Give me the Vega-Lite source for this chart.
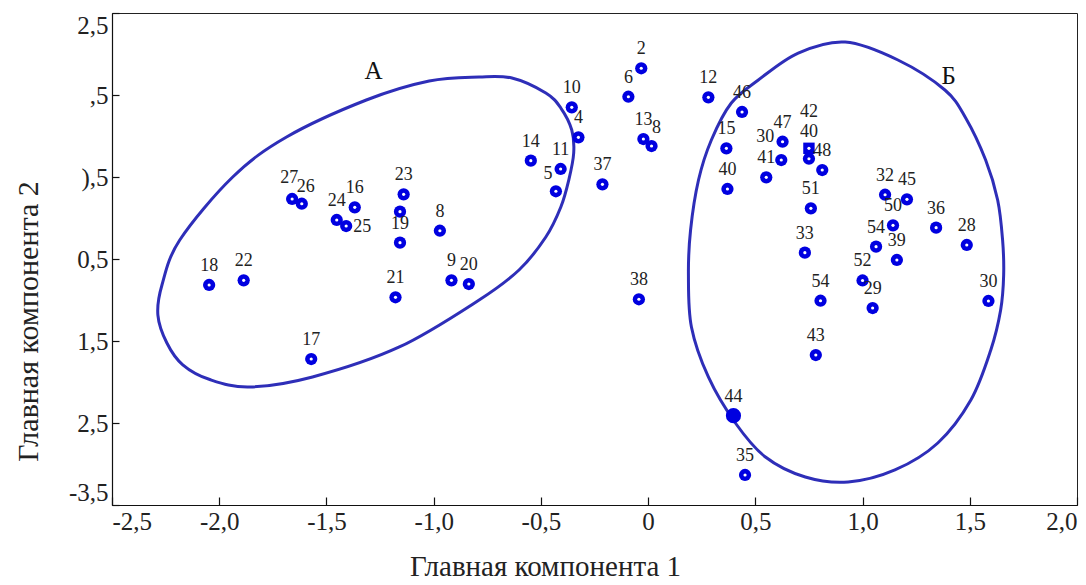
{
  "$schema": "https://vega.github.io/schema/vega-lite/v6.json",
  "width": 965,
  "height": 492,
  "autosize": "none",
  "padding": {"left": 112, "top": 13, "right": 9, "bottom": 80},
  "background": "white",
  "config": {
    "view": {"stroke": "#222", "strokeWidth": 1},
    "axis": {
      "grid": false,
      "domainColor": "#111",
      "domainWidth": 1.2,
      "tickColor": "#111",
      "tickWidth": 1.2,
      "labelFont": "Liberation Serif",
      "labelFontSize": 25,
      "labelColor": "#222",
      "titleFont": "Liberation Serif",
      "titleFontWeight": "normal",
      "titleColor": "#222"
    }
  },
  "datasets": {
    "points": [
      {"label": "27", "x": -1.660, "y": 0.232},
      {"label": "26", "x": -1.615, "y": 0.174},
      {"label": "24", "x": -1.452, "y": -0.024},
      {"label": "25", "x": -1.408, "y": -0.098},
      {"label": "16", "x": -1.368, "y": 0.130},
      {"label": "23", "x": -1.140, "y": 0.289},
      {"label": "", "x": -1.157, "y": 0.077},
      {"label": "19", "x": -1.157, "y": -0.301},
      {"label": "8", "x": -0.971, "y": -0.155},
      {"label": "18", "x": -2.047, "y": -0.817},
      {"label": "22", "x": -1.886, "y": -0.760},
      {"label": "21", "x": -1.178, "y": -0.967},
      {"label": "9", "x": -0.917, "y": -0.760},
      {"label": "20", "x": -0.836, "y": -0.805},
      {"label": "17", "x": -1.571, "y": -1.720},
      {"label": "2", "x": -0.032, "y": 1.826},
      {"label": "6", "x": -0.092, "y": 1.479},
      {"label": "10", "x": -0.356, "y": 1.350},
      {"label": "4", "x": -0.325, "y": 0.984},
      {"label": "13", "x": -0.022, "y": 0.963},
      {"label": "8", "x": 0.016, "y": 0.878},
      {"label": "14", "x": -0.547, "y": 0.699},
      {"label": "11", "x": -0.408, "y": 0.598},
      {"label": "5", "x": -0.430, "y": 0.326},
      {"label": "37", "x": -0.213, "y": 0.411},
      {"label": "38", "x": -0.043, "y": -0.991},
      {"label": "12", "x": 0.281, "y": 1.472},
      {"label": "46", "x": 0.438, "y": 1.293},
      {"label": "15", "x": 0.365, "y": 0.850},
      {"label": "40", "x": 0.370, "y": 0.354},
      {"label": "41", "x": 0.551, "y": 0.496},
      {"label": "30", "x": 0.621, "y": 0.707},
      {"label": "47", "x": 0.627, "y": 0.930},
      {"label": "42", "x": 0.750, "y": 0.850},
      {"label": "40", "x": 0.750, "y": 0.723},
      {"label": "48", "x": 0.812, "y": 0.585},
      {"label": "51", "x": 0.759, "y": 0.118},
      {"label": "33", "x": 0.731, "y": -0.423},
      {"label": "54", "x": 0.804, "y": -1.009},
      {"label": "52", "x": 1.000, "y": -0.762},
      {"label": "29", "x": 1.047, "y": -1.098},
      {"label": "54", "x": 1.063, "y": -0.350},
      {"label": "32", "x": 1.105, "y": 0.284},
      {"label": "45", "x": 1.207, "y": 0.228},
      {"label": "50", "x": 1.142, "y": -0.089},
      {"label": "36", "x": 1.343, "y": -0.118},
      {"label": "39", "x": 1.160, "y": -0.512},
      {"label": "28", "x": 1.486, "y": -0.329},
      {"label": "30", "x": 1.587, "y": -1.012},
      {"label": "43", "x": 0.782, "y": -1.671},
      {"label": "44", "x": 0.398, "y": -2.411},
      {"label": "35", "x": 0.452, "y": -3.134}
    ],
    "ellipses": [
      {"ellipse": "A", "order": 1, "x": -0.788, "y": 1.720},
      {"ellipse": "A", "order": 2, "x": -0.635, "y": 1.707},
      {"ellipse": "A", "order": 3, "x": -0.477, "y": 1.524},
      {"ellipse": "A", "order": 4, "x": -0.407, "y": 1.341},
      {"ellipse": "A", "order": 5, "x": -0.356, "y": 1.073},
      {"ellipse": "A", "order": 6, "x": -0.347, "y": 0.793},
      {"ellipse": "A", "order": 7, "x": -0.370, "y": 0.463},
      {"ellipse": "A", "order": 8, "x": -0.407, "y": 0.134},
      {"ellipse": "A", "order": 9, "x": -0.477, "y": -0.232},
      {"ellipse": "A", "order": 10, "x": -0.602, "y": -0.634},
      {"ellipse": "A", "order": 11, "x": -0.788, "y": -1.000},
      {"ellipse": "A", "order": 12, "x": -1.160, "y": -1.573},
      {"ellipse": "A", "order": 13, "x": -1.565, "y": -1.939},
      {"ellipse": "A", "order": 14, "x": -1.858, "y": -2.061},
      {"ellipse": "A", "order": 15, "x": -2.044, "y": -1.970},
      {"ellipse": "A", "order": 16, "x": -2.170, "y": -1.790},
      {"ellipse": "A", "order": 17, "x": -2.244, "y": -1.524},
      {"ellipse": "A", "order": 18, "x": -2.286, "y": -1.183},
      {"ellipse": "A", "order": 19, "x": -2.267, "y": -0.817},
      {"ellipse": "A", "order": 20, "x": -2.184, "y": -0.268},
      {"ellipse": "A", "order": 21, "x": -1.937, "y": 0.500},
      {"ellipse": "A", "order": 22, "x": -1.686, "y": 0.988},
      {"ellipse": "A", "order": 23, "x": -1.314, "y": 1.439},
      {"ellipse": "A", "order": 24, "x": -1.021, "y": 1.671},
      {"ellipse": "B", "order": 1, "x": 0.919, "y": 2.146},
      {"ellipse": "B", "order": 2, "x": 1.165, "y": 1.927},
      {"ellipse": "B", "order": 3, "x": 1.384, "y": 1.561},
      {"ellipse": "B", "order": 4, "x": 1.481, "y": 1.220},
      {"ellipse": "B", "order": 5, "x": 1.574, "y": 0.707},
      {"ellipse": "B", "order": 6, "x": 1.630, "y": 0.220},
      {"ellipse": "B", "order": 7, "x": 1.653, "y": -0.268},
      {"ellipse": "B", "order": 8, "x": 1.658, "y": -0.695},
      {"ellipse": "B", "order": 9, "x": 1.644, "y": -1.122},
      {"ellipse": "B", "order": 10, "x": 1.598, "y": -1.610},
      {"ellipse": "B", "order": 11, "x": 1.505, "y": -2.220},
      {"ellipse": "B", "order": 12, "x": 1.351, "y": -2.744},
      {"ellipse": "B", "order": 13, "x": 1.151, "y": -3.073},
      {"ellipse": "B", "order": 14, "x": 0.933, "y": -3.220},
      {"ellipse": "B", "order": 15, "x": 0.733, "y": -3.159},
      {"ellipse": "B", "order": 16, "x": 0.547, "y": -2.915},
      {"ellipse": "B", "order": 17, "x": 0.407, "y": -2.500},
      {"ellipse": "B", "order": 18, "x": 0.281, "y": -1.939},
      {"ellipse": "B", "order": 19, "x": 0.202, "y": -1.329},
      {"ellipse": "B", "order": 20, "x": 0.188, "y": -0.695},
      {"ellipse": "B", "order": 21, "x": 0.198, "y": -0.146},
      {"ellipse": "B", "order": 22, "x": 0.235, "y": 0.463},
      {"ellipse": "B", "order": 23, "x": 0.295, "y": 0.951},
      {"ellipse": "B", "order": 24, "x": 0.388, "y": 1.402},
      {"ellipse": "B", "order": 25, "x": 0.514, "y": 1.683},
      {"ellipse": "B", "order": 26, "x": 0.700, "y": 2.012}
    ],
    "letters": [
      {"text": "А", "x": -1.281, "y": 1.793},
      {"text": "Б", "x": 1.402, "y": 1.732}
    ]
  },
  "encoding": {
    "x": {
      "field": "x",
      "type": "quantitative",
      "scale": {"domain": [-2.5, 2.0], "nice": false, "zero": false},
      "axis": {
        "values": [-2.5, -2, -1.5, -1, -0.5, 0, 0.5, 1, 1.5, 2],
        "labelExpr": "datum.value == 0 ? '0' : (datum.value < 0 ? '-' : '') + replace(format(abs(datum.value), '.1f'), '.', ',')",
        "tickSize": -8,
        "labelPadding": 12,
        "title": "Главная компонента 1",
        "titleFontSize": 29,
        "titleX": 433,
        "titleY": 70,
        "titleBaseline": "alphabetic"
      }
    },
    "y": {
      "field": "y",
      "type": "quantitative",
      "scale": {"domain": [-3.5, 2.5], "nice": false, "zero": false},
      "axis": {
        "values": [2.5, 1.5, 0.5, -0.5, -1.5, -2.5, -3.5],
        "labelExpr": "datum.value == 1.5 ? ',5' : datum.value == 0.5 ? '),5' : datum.value == -3.5 ? '-3,5' : replace(format(abs(datum.value), '.1f'), '.', ',')",
        "labelFlush": true,
        "tickSize": -7,
        "labelPadding": 11,
        "title": "Главная компонента 2",
        "titleFontSize": 30,
        "titleAngle": -90,
        "titleX": -75,
        "titleY": 308,
        "titleAlign": "center",
        "titleBaseline": "alphabetic"
      }
    }
  },
  "layer": [
    {
      "data": {"name": "ellipses"},
      "mark": {"type": "line", "interpolate": "cardinal-closed", "color": "#2e2eb8", "strokeWidth": 3},
      "encoding": {
        "detail": {"field": "ellipse"},
        "order": {"field": "order", "type": "quantitative"}
      }
    },
    {
      "data": {"name": "points"},
      "transform": [{"filter": "datum.label != '44' && datum.label != '42'"}],
      "mark": {"type": "point", "shape": "circle", "filled": true, "color": "#0000e0", "size": 150, "opacity": 1}
    },
    {
      "data": {"name": "points"},
      "transform": [{"filter": "datum.label == '44'"}],
      "mark": {"type": "point", "shape": "circle", "filled": true, "color": "#0000e0", "size": 230, "opacity": 1}
    },
    {
      "data": {"name": "points"},
      "transform": [{"filter": "datum.label == '42'"}],
      "mark": {"type": "point", "shape": "square", "filled": true, "color": "#0000e0", "size": 130, "opacity": 1}
    },
    {
      "data": {"name": "points"},
      "transform": [{"filter": "datum.label != '44'"}],
      "mark": {"type": "point", "shape": "circle", "filled": true, "color": "#ffffff", "size": 10, "opacity": 1}
    },
    {
      "data": {"name": "points"},
      "transform": [{"filter": "!(datum.label == '25' || datum.label == '42' || datum.label == '5' || datum.label == '27' || datum.label == '26' || (datum.label == '30' && datum.y > 0) || (datum.label == '8' && datum.x > 0) || (datum.label == '40' && datum.x > 0.5))"}],
      "mark": {"type": "text", "font": "Liberation Serif", "fontSize": 18, "color": "#222", "dy": -19, "baseline": "middle", "align": "center"},
      "encoding": {"text": {"field": "label"}}
    },
    {
      "data": {"name": "points"},
      "transform": [{"filter": "datum.label == '27'"}],
      "mark": {"type": "text", "font": "Liberation Serif", "fontSize": 18, "color": "#222", "dx": -3, "dy": -21, "baseline": "middle", "align": "center"},
      "encoding": {"text": {"field": "label"}}
    },
    {
      "data": {"name": "points"},
      "transform": [{"filter": "datum.label == '26'"}],
      "mark": {"type": "text", "font": "Liberation Serif", "fontSize": 18, "color": "#222", "dx": 4, "dy": -17, "baseline": "middle", "align": "center"},
      "encoding": {"text": {"field": "label"}}
    },
    {
      "data": {"name": "points"},
      "transform": [{"filter": "datum.label == '25'"}],
      "mark": {"type": "text", "font": "Liberation Serif", "fontSize": 18, "color": "#222", "dx": 16, "dy": 1, "baseline": "middle", "align": "center"},
      "encoding": {"text": {"field": "label"}}
    },
    {
      "data": {"name": "points"},
      "transform": [{"filter": "datum.label == '42'"}],
      "mark": {"type": "text", "font": "Liberation Serif", "fontSize": 18, "color": "#222", "dy": -36, "baseline": "middle", "align": "center"},
      "encoding": {"text": {"field": "label"}}
    },
    {
      "data": {"name": "points"},
      "transform": [{"filter": "datum.label == '40' && datum.x > 0.5"}],
      "mark": {"type": "text", "font": "Liberation Serif", "fontSize": 18, "color": "#222", "dy": -27, "baseline": "middle", "align": "center"},
      "encoding": {"text": {"field": "label"}}
    },
    {
      "data": {"name": "points"},
      "transform": [{"filter": "datum.label == '30' && datum.y > 0"}],
      "mark": {"type": "text", "font": "Liberation Serif", "fontSize": 18, "color": "#222", "dx": -16, "dy": -23, "baseline": "middle", "align": "center"},
      "encoding": {"text": {"field": "label"}}
    },
    {
      "data": {"name": "points"},
      "transform": [{"filter": "datum.label == '5'"}],
      "mark": {"type": "text", "font": "Liberation Serif", "fontSize": 18, "color": "#222", "dx": -8, "dy": -17, "baseline": "middle", "align": "center"},
      "encoding": {"text": {"field": "label"}}
    },
    {
      "data": {"name": "points"},
      "transform": [{"filter": "datum.label == '8' && datum.x > 0"}],
      "mark": {"type": "text", "font": "Liberation Serif", "fontSize": 18, "color": "#222", "dx": 5, "dy": -18, "baseline": "middle", "align": "center"},
      "encoding": {"text": {"field": "label"}}
    },
    {
      "data": {"name": "letters"},
      "mark": {"type": "text", "font": "Liberation Serif", "fontSize": 25, "color": "#111", "baseline": "middle", "align": "center"},
      "encoding": {"text": {"field": "text"}}
    }
  ]
}
